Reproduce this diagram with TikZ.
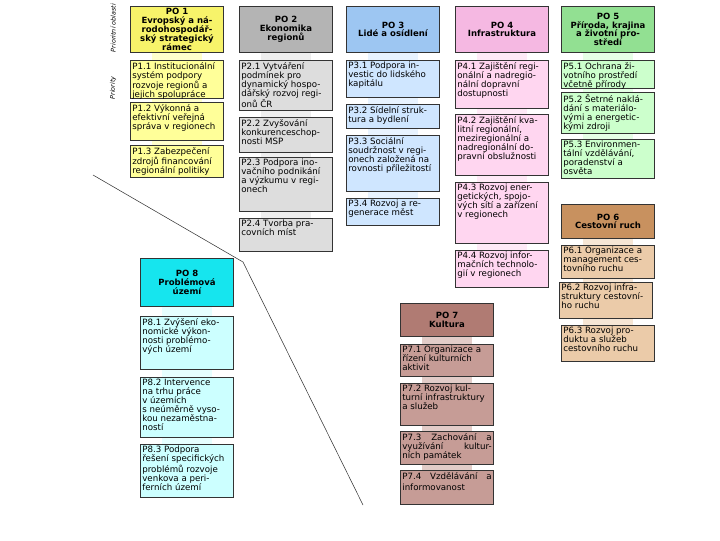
\documentclass[tikz,border=0pt]{standalone}
\usepackage{fontspec}
\setmainfont{DejaVu Sans}
\usepackage{tikz}
\usepackage{xcolor}

\definecolor{poah}{HTML}{F7F36A}
\definecolor{poas}{HTML}{FFFF99}
\definecolor{poal}{HTML}{FFFFCC}
\definecolor{pobh}{HTML}{B4B4B4}
\definecolor{pobs}{HTML}{DDDDDD}
\definecolor{pobl}{HTML}{EEEEEE}
\definecolor{poch}{HTML}{9DC6F2}
\definecolor{pocs}{HTML}{CFE6FF}
\definecolor{pocl}{HTML}{E8F3FF}
\definecolor{podh}{HTML}{F5B8E2}
\definecolor{pods}{HTML}{FFD6F0}
\definecolor{podl}{HTML}{FFEAF7}
\definecolor{poeh}{HTML}{92E092}
\definecolor{poes}{HTML}{CCFFCC}
\definecolor{poel}{HTML}{E6FFE6}
\definecolor{pofh}{HTML}{C8915F}
\definecolor{pofs}{HTML}{EBCBA9}
\definecolor{pofl}{HTML}{F6E6D5}
\definecolor{pogh}{HTML}{B07B73}
\definecolor{pogs}{HTML}{C69C96}
\definecolor{pogl}{HTML}{E2CCC8}
\definecolor{pohh}{HTML}{16E5EE}
\definecolor{pohs}{HTML}{CCFFFF}
\definecolor{pohl}{HTML}{E6FFFF}

\newcommand{\prtext}[2]{\parbox[t][\dimexpr #1pt*3/4-3pt\relax][t]{67pt}{#2}}

\begin{document}
\begin{tikzpicture}[x=0.75pt,y=-0.75pt,
	hd/.style={draw=black!80, line width=0.5pt, anchor=north west, minimum width=70pt, minimum height=#1*0.75pt, inner sep=0pt, align=center, font=\fontsize{6.4}{6.6}\selectfont\bfseries},
	pr/.style={draw=black!80, line width=0.5pt, anchor=north west, inner sep=1.5pt, font=\fontsize{6.5}{6.7}\selectfont},
	side/.style={rotate=90, inner sep=0pt, font=\fontsize{4.8}{5}\selectfont\itshape}]
		\useasboundingbox (0,0) rectangle (720,540);

		\fill[poal] (152,52) rectangle (202,145);
		\fill[pobl] (261,52) rectangle (311,218);
		\fill[pocl] (368,52) rectangle (418,198);
		\fill[podl] (477,52) rectangle (527,250);
		\fill[poel] (583,52) rectangle (633,139);
		\fill[pofl] (583,238) rectangle (633,325);
		\fill[pogl] (422,336) rectangle (472,470);
		\fill[pohl] (162,306) rectangle (212,444);

		\draw[black!80, line width=0.4pt] (93,175) -- (243,262) -- (363,505);

		\node[side] (lblpo) at (113,28) {Prioritní oblasti};
		\node[side] (lblpr) at (113,88) {Priority};

		\node[hd=46, fill=poah] (po1) at (130,6) {PO 1\\Evropský a ná-\\rodohospodář-\\ský strategický\\rámec};
		\node[pr, fill=poas] (p11) at (130,60) {\prtext{38}{P1.1 Institucionální\\systém podpory\\rozvoje regionů a\\jejich spolupráce}};
		\node[pr, fill=poas] (p12) at (130,102) {\prtext{38}{P1.2 Výkonná a\\efektivní veřejná\\správa v regionech}};
		\node[pr, fill=poas] (p13) at (130,145) {\prtext{32}{P1.3 Zabezpečení\\zdrojů financování\\regionální politiky}};

		\node[hd=46, fill=pobh] (po2) at (239,6) {PO 2\\Ekonomika\\regionů};
		\node[pr, fill=pobs] (p21) at (239,60) {\prtext{50}{P2.1 Vytváření\\podmínek pro\\dynamický hospo-\\dářský rozvoj regi-\\onů ČR}};
		\node[pr, fill=pobs] (p22) at (239,117) {\prtext{35}{P2.2 Zvyšování\\konkurenceschop-\\nosti MSP}};
		\node[pr, fill=pobs] (p23) at (239,157) {\prtext{54}{P2.3 Podpora ino-\\vačního podnikání\\a výzkumu v regi-\\onech}};
		\node[pr, fill=pobs] (p24) at (239,218) {\prtext{33}{P2.4 Tvorba pra-\\covních míst}};

		\node[hd=46, fill=poch] (po3) at (346,6) {PO 3\\Lidé a osídlení};
		\node[pr, fill=pocs] (p31) at (346,60) {\prtext{37}{P3.1 Podpora in-\\vestic do lidského\\kapitálu}};
		\node[pr, fill=pocs] (p32) at (346,104) {\prtext{24}{P3.2 Sídelní struk-\\tura a bydlení}};
		\node[pr, fill=pocs] (p33) at (346,135) {\prtext{56}{P3.3 Sociální\\soudržnost v regi-\\onech založená na\\rovnosti příležitostí}};
		\node[pr, fill=pocs] (p34) at (346,198) {\prtext{27}{P3.4 Rozvoj a re-\\generace měst}};

		\node[hd=46, fill=podh] (po4) at (455,6) {PO 4\\Infrastruktura};
		\node[pr, fill=pods] (p41) at (455,60) {\prtext{48}{P4.1 Zajištění regi-\\onální a nadregio-\\nální dopravní\\dostupnosti}};
		\node[pr, fill=pods] (p42) at (455,114) {\prtext{61}{P4.2 Zajištění kva-\\litní regionální,\\meziregionální a\\nadregionální do-\\pravní obslužnosti}};
		\node[pr, fill=pods] (p43) at (455,182) {\prtext{61}{P4.3 Rozvoj ener-\\getických, spojo-\\vých sítí a zařízení\\v regionech}};
		\node[pr, fill=pods] (p44) at (455,250) {\prtext{37}{P4.4 Rozvoj infor-\\mačních technolo-\\gií v regionech}};

		\node[hd=46, fill=poeh] (po5) at (561,6) {PO 5\\Příroda, krajina\\a životní pro-\\středí};
		\node[pr, fill=poes] (p51) at (561,60) {\prtext{28}{P5.1 Ochrana ži-\\votního prostředí\\včetně přírody}};
		\node[pr, fill=poes] (p52) at (561,92) {\prtext{41}{P5.2 Šetrné naklá-\\dání s materiálo-\\vými a energetic-\\kými zdroji}};
		\node[pr, fill=poes] (p53) at (561,139) {\prtext{39}{P5.3 Environmen-\\tální vzdělávání,\\poradenství a\\osvěta}};

		\node[hd=34, fill=pofh] (po6) at (561,204) {PO 6\\Cestovní ruch};
		\node[pr, fill=pofs] (p61) at (561,245) {\prtext{33}{P6.1 Organizace a\\management ces-\\tovního ruchu}};
		\node[pr, fill=pofs] (p62) at (559,282) {\prtext{36}{P6.2 Rozvoj infra-\\struktury cestovní-\\ho ruchu}};
		\node[pr, fill=pofs] (p63) at (561,325) {\prtext{36}{P6.3 Rozvoj pro-\\duktu a služeb\\cestovního ruchu}};

		\node[hd=33, fill=pogh] (po7) at (400,303) {PO 7\\Kultura};
		\node[pr, fill=pogs] (p71) at (400,344) {\prtext{32}{P7.1 Organizace a\\řízení kulturních\\aktivit}};
		\node[pr, fill=pogs] (p72) at (400,383) {\prtext{42}{P7.2 Rozvoj kul-\\turní infrastruktury\\a služeb}};
		\node[pr, fill=pogs] (p73) at (400,431) {\prtext{33}{P7.3\hfill Zachování\hfill a\\využívání\hfill kultur-\\ních památek}};
		\node[pr, fill=pogs] (p74) at (400,470) {\prtext{34}{P7.4\hfill Vzdělávání\hfill a\\[2pt]informovanost}};

		\node[hd=48, fill=pohh] (po8) at (140,258) {PO 8\\Problémová\\území};
		\node[pr, fill=pohs] (p81) at (140,316) {\prtext{53}{P8.1 Zvýšení eko-\\nomické výkon-\\nosti problémo-\\vých území}};
		\node[pr, fill=pohs] (p82) at (140,377) {\prtext{60}{P8.2 Intervence\\na trhu práce\\v územích\\s neúměrně vyso-\\kou nezaměstna-\\ností}};
		\node[pr, fill=pohs] (p83) at (140,444) {\prtext{53}{P8.3 Podpora\\řešení specifických\\problémů rozvoje\\venkova a peri-\\ferních území}};
\end{tikzpicture}
\end{document}
